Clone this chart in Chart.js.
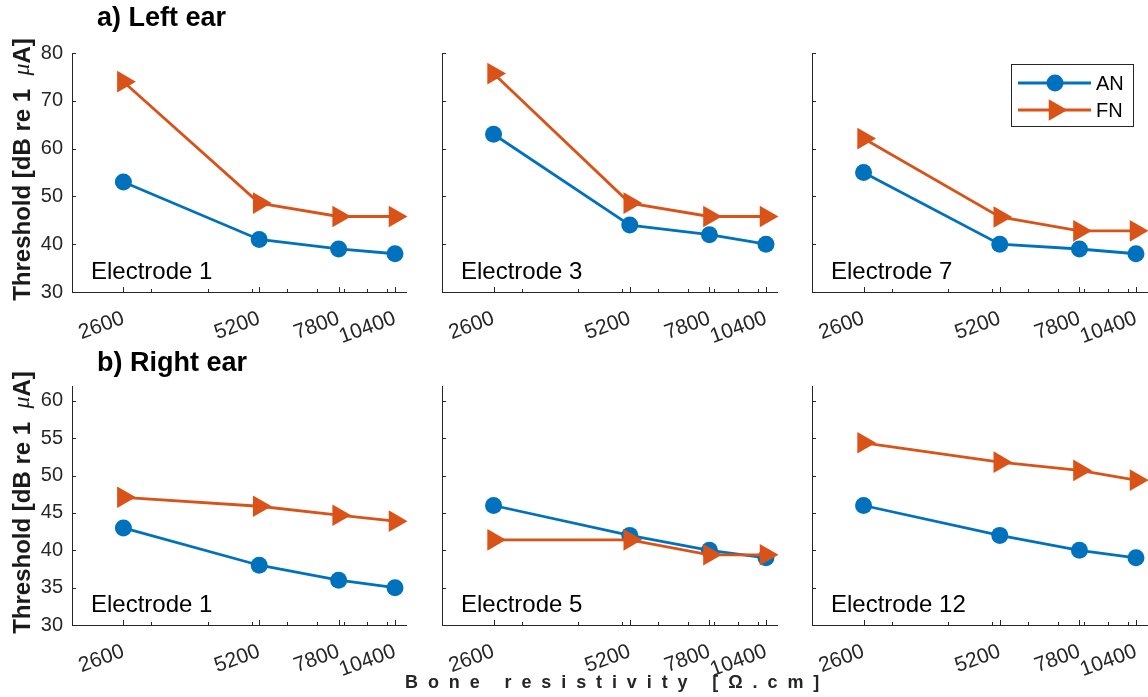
<!DOCTYPE html>
<html>
<head>
<meta charset="utf-8">
<script src="https://cdn.jsdelivr.net/npm/chart.js@4.4.0/dist/chart.umd.min.js"></script>
<style>
body { margin: 0; background: #fff; }
#fig { position: relative; width: 1148px; height: 697px; overflow: hidden; background: #fff; font-family: "Liberation Sans", Arial, sans-serif; }
#fig canvas { position: absolute; }
.ttl { position: absolute; font-weight: bold; font-size: 27px; line-height: 27px; color: #000; white-space: nowrap; }
#xtitle { position: absolute; font-weight: bold; font-size: 18px; line-height: 18px; letter-spacing: 9.9px; color: #262626; white-space: nowrap; }
</style>
</head>
<body>
<div id="fig">
  <canvas id="c0" width="420" height="320" style="left:0px;top:30px"></canvas>
  <canvas id="c1" width="360" height="320" style="left:430px;top:30px"></canvas>
  <canvas id="c2" width="348" height="320" style="left:800px;top:30px"></canvas>
  <canvas id="c3" width="420" height="337" style="left:0px;top:360px"></canvas>
  <canvas id="c4" width="360" height="337" style="left:430px;top:360px"></canvas>
  <canvas id="c5" width="348" height="337" style="left:800px;top:360px"></canvas>
  <div class="ttl" style="left:97px;top:4px">a) Left ear</div>
  <div class="ttl" style="left:97px;top:349px">b) Right ear</div>
  <div id="xtitle" style="left:405px;top:673px">Bone resistivity [Ω.cm]</div>
</div>
<script>
// x values (bone resistivity, Ohm.cm) and log minor ticks
var resistivity = [2600, 5200, 7800, 10400];
var minorTicks = [3000, 4000, 5000, 6000, 7000, 8000, 9000, 10000];
var seriesNames = ['AN', 'FN'];

// a) left ear
var leftLabels = ['Electrode 1', 'Electrode 3', 'Electrode 7'];
var leftAN = [[53, 41, 39, 38], [63, 44, 42, 40], [55, 40, 39, 38]];
var leftFN = [[74, 48.6, 45.8, 45.8], [75.7, 48.6, 45.8, 45.8], [62.1, 45.7, 42.8, 42.8]];
var leftYTicks = [30, 40, 50, 60, 70, 80];

// b) right ear
var rightLabels = ['Electrode 1', 'Electrode 5', 'Electrode 12'];
var rightAN = [[43, 38, 36, 35], [46, 42, 40, 39], [46, 42, 40, 39]];
var rightFN = [[47.1, 45.9, 44.7, 43.9], [41.4, 41.4, 39.4, 39.4], [54.4, 51.8, 50.7, 49.4]];
var rightYTicks = [30, 35, 40, 45, 50, 55, 60];

var blue = '#0072BD';
var orange = '#D95319';
var axisCol = '#262626';
var fontFam = '"Liberation Sans", Arial, sans-serif';

var cols = [
  { yw: 72, pr: 14, first: true },
  { yw: 12, pr: 13, first: false },
  { yw: 12, pr: 1, first: false }
];

var panels = [];
for (var i = 0; i < 3; i++) {
  panels.push({ id: 'c' + i, label: leftLabels[i], an: leftAN[i], fn: leftFN[i], yTicks: leftYTicks, yMax: 80,
    pt: 23, xh: 58, col: cols[i], legend: i == 2 });
}
for (var i = 0; i < 3; i++) {
  panels.push({ id: 'c' + (i + 3), label: rightLabels[i], an: rightAN[i], fn: rightFN[i], yTicks: rightYTicks, yMax: 62,
    pt: 26, xh: 72, col: cols[i], legend: false });
}

function drawMarker(ctx, style, x, y, color) {
  ctx.fillStyle = color;
  ctx.beginPath();
  if (style == 'circle') {
    ctx.arc(x, y, 8.5, 0, Math.PI * 2);
  } else {
    var r = 12.5;
    ctx.moveTo(x + r, y);
    ctx.lineTo(x - r / 2, y + 0.866 * r);
    ctx.lineTo(x - r / 2, y - 0.866 * r);
    ctx.closePath();
  }
  ctx.fill();
}

function drawLegend(ctx, a) {
  var bw = 122, bh = 62;
  var bx = a.right - 136, by = a.top + 11;
  ctx.fillStyle = '#fff';
  ctx.fillRect(bx, by, bw, bh);
  ctx.strokeStyle = axisCol;
  ctx.lineWidth = 1;
  ctx.strokeRect(bx + 0.5, by + 0.5, bw, bh);
  var colors = [blue, orange];
  var styles = ['circle', 'triangle'];
  seriesNames.forEach(function(name, k) {
    var y = by + 19 + k * 27;
    ctx.strokeStyle = colors[k];
    ctx.lineWidth = 2.8;
    ctx.beginPath();
    ctx.moveTo(bx + 7, y);
    ctx.lineTo(bx + 80, y);
    ctx.stroke();
    drawMarker(ctx, styles[k], bx + 44, y, colors[k]);
    ctx.fillStyle = '#000';
    ctx.font = '20px ' + fontFam;
    ctx.textBaseline = 'middle';
    ctx.fillText(name, bx + 85, y + 1);
  });
}

// y title with italic mu, like the TeX label
function drawYTitle(ctx, a) {
  var parts = [
    { t: 'Threshold [dB re 1  ', f: 'bold 24px ' + fontFam },
    { t: 'μ', f: 'italic 24px "Liberation Serif", serif' },
    { t: 'A]', f: 'bold 24px ' + fontFam }
  ];
  var total = 0;
  parts.forEach(function(s) { ctx.font = s.f; s.w = ctx.measureText(s.t).width; total += s.w; });
  ctx.save();
  ctx.translate(23, (a.top + a.bottom) / 2 - 3);
  ctx.rotate(-Math.PI / 2);
  ctx.fillStyle = '#1a1a1a';
  ctx.textAlign = 'left';
  ctx.textBaseline = 'middle';
  var x = -total / 2;
  parts.forEach(function(s) { ctx.font = s.f; ctx.fillText(s.t, x, 0); x += s.w; });
  ctx.restore();
}

var panelDeco = {
  id: 'panelDeco',
  afterDraw: function(chart, args, opts) {
    var ctx = chart.ctx, a = chart.chartArea;
    var xs = chart.scales.x, ys = chart.scales.y;
    ctx.save();
    // inward tick marks
    ctx.strokeStyle = axisCol;
    ctx.lineWidth = 1;
    ctx.beginPath();
    xs.ticks.forEach(function(t) {
      var px = Math.round(xs.getPixelForValue(t.value)) + 0.5;
      var len = resistivity.indexOf(t.value) >= 0 ? 5 : 3;
      ctx.moveTo(px, a.bottom);
      ctx.lineTo(px, a.bottom - len);
    });
    ys.ticks.forEach(function(t) {
      var py = Math.round(ys.getPixelForValue(t.value)) + 0.5;
      ctx.moveTo(a.left, py);
      ctx.lineTo(a.left + 4, py);
    });
    ctx.stroke();
    // electrode label
    ctx.fillStyle = '#000';
    ctx.font = '24px ' + fontFam;
    ctx.textBaseline = 'alphabetic';
    ctx.fillText(opts.label, a.left + 19, a.bottom - 13);
    if (opts.legend) drawLegend(ctx, a);
    if (opts.ytitle) drawYTitle(ctx, a);
    ctx.restore();
  }
};

panels.forEach(function(p) {
  new Chart(document.getElementById(p.id), {
    type: 'line',
    data: {
      datasets: [
        {
          label: seriesNames[0],
          data: resistivity.map(function(x, i) { return { x: x, y: p.an[i] }; }),
          borderColor: blue, backgroundColor: blue, borderWidth: 2.8,
          pointStyle: 'circle', pointRadius: 8.5, pointBorderWidth: 0,
          tension: 0, clip: false, order: 1
        },
        {
          label: seriesNames[1],
          data: resistivity.map(function(x, i) { return { x: x, y: p.fn[i] }; }),
          borderColor: orange, backgroundColor: orange, borderWidth: 2.8,
          pointStyle: 'triangle', pointRotation: 90, pointRadius: 12.5, pointBorderWidth: 0,
          tension: 0, clip: false, order: 0
        }
      ]
    },
    options: {
      responsive: false,
      animation: false,
      events: [],
      layout: { autoPadding: false, padding: { left: 0, right: p.col.pr, top: p.pt, bottom: 0 } },
      plugins: {
        legend: { display: false },
        tooltip: { enabled: false },
        panelDeco: { label: p.label, legend: p.legend, ytitle: p.col.first }
      },
      scales: {
        x: {
          type: 'logarithmic', min: 2000, max: 11000,
          afterBuildTicks: function(s) {
            s.ticks = resistivity.concat(minorTicks).sort(function(a, b) { return a - b; })
              .map(function(v) { return { value: v }; });
          },
          afterFit: function(s) {
            s.height = p.xh;
            s.paddingLeft = 0;
            s.paddingRight = 0;
          },
          grid: { display: false, drawTicks: false },
          border: { display: true, color: axisCol, width: 1 },
          ticks: {
            autoSkip: false, minRotation: 20, maxRotation: 20, padding: 14,
            color: axisCol, font: { size: 21, family: fontFam },
            callback: function(v) { return resistivity.indexOf(v) >= 0 ? String(v) : ''; }
          }
        },
        y: {
          min: 30, max: p.yMax,
          afterBuildTicks: function(s) {
            s.ticks = p.yTicks.map(function(v) { return { value: v }; });
          },
          afterFit: function(s) {
            s.width = p.col.yw;
            s.paddingTop = 0;
            s.paddingBottom = 0;
          },
          grid: { display: false, drawTicks: false },
          border: { display: true, color: axisCol, width: 1 },
          ticks: { display: p.col.first, padding: 9, color: axisCol, font: { size: 20, family: fontFam } }
        }
      }
    },
    plugins: [panelDeco]
  });
});
</script>
</body>
</html>
